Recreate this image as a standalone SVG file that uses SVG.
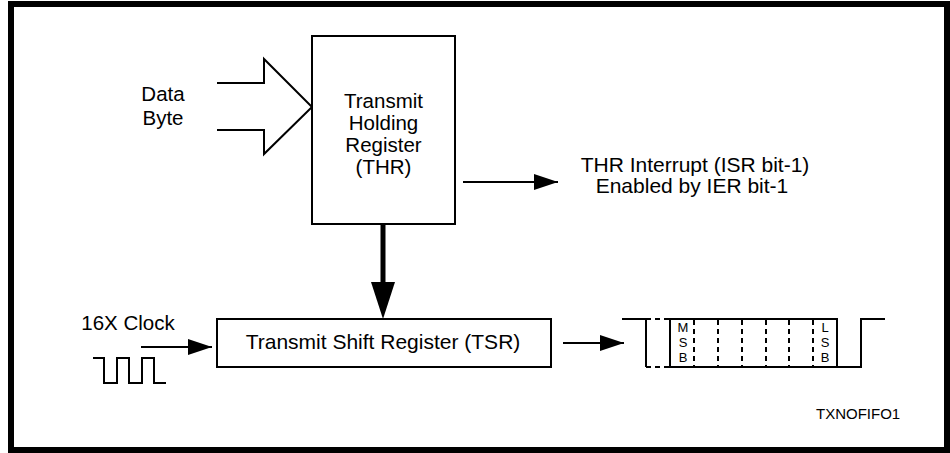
<svg xmlns="http://www.w3.org/2000/svg" width="950" height="453" viewBox="0 0 950 453">
<style>
text{font-family:"Liberation Sans",Arial,sans-serif;fill:#000}
.t{font-size:20.5px;text-anchor:middle}
.s{font-size:13px;text-anchor:middle}
.box{fill:#fff;stroke:#000;stroke-width:2}
.ln{fill:none;stroke:#000;stroke-width:2}
.dash{fill:none;stroke:#000;stroke-width:2;stroke-dasharray:5 4}
</style>
<defs>
<marker id="ah" markerWidth="24" markerHeight="16" refX="24" refY="8" orient="auto" markerUnits="userSpaceOnUse" viewBox="0 0 24 16">
<path d="M0,0 L24,8 L0,16 Z" fill="#000"/>
</marker>
</defs>
<rect x="0" y="0" width="950" height="453" fill="#fff"/>
<rect x="11" y="4" width="936" height="446" fill="none" stroke="#000" stroke-width="6"/>

<g id="data-byte">
<path class="ln" d="M217,83 H264 V59 L312,107 L264,154 V130 H217" stroke-width="1.5"/>
<text class="t" x="163" y="101">Data</text>
<text class="t" x="163" y="125">Byte</text>
</g>

<g id="thr">
<rect class="box" x="312" y="36" width="143" height="188"/>
<text class="t" x="383.5" y="108">Transmit</text>
<text class="t" x="383.5" y="130">Holding</text>
<text class="t" x="383.5" y="152">Register</text>
<text class="t" x="383.5" y="174">(THR)</text>
</g>

<g id="tsr">
<rect class="box" x="217" y="319" width="334" height="48"/>
<text class="t" x="383" y="349" style="font-size:21px">Transmit Shift Register (TSR)</text>
</g>

<g id="thr-interrupt">
<text class="t" x="695" y="172" style="font-size:21px">THR Interrupt (ISR bit-1)</text>
<text class="t" x="692" y="193" style="font-size:21px">Enabled by IER bit-1</text>
</g>

<g id="clock">
<text class="t" x="128" y="330">16X Clock</text>
<path class="ln" d="M93,358 H104 V383 H117 V358 H129 V383 H142 V358 H154 V383 H166"/>
</g>

<g id="serial-out">
<path class="ln" d="M622,319 H646 V367"/>
<path class="dash" d="M646,319 H670 M646,367 H670"/>
<rect x="670" y="319" width="167" height="48" fill="none" stroke="#000" stroke-width="2"/>
<path class="dash" d="M694,320 V367 M718,320 V367 M742,320 V367 M766,320 V367 M789,320 V367 M813,320 V367"/>
<path class="ln" d="M837,367 H861 V319 H885"/>
<text class="s" x="683" y="332">M</text>
<text class="s" x="683" y="347">S</text>
<text class="s" x="683" y="362">B</text>
<text class="s" x="825" y="332">L</text>
<text class="s" x="825" y="347">S</text>
<text class="s" x="825" y="362">B</text>
</g>

<g id="connectors">
<line x1="463" y1="182" x2="558" y2="182" stroke="#000" stroke-width="2" marker-end="url(#ah)"/>
<line x1="141" y1="347" x2="212" y2="347" stroke="#000" stroke-width="2" marker-end="url(#ah)"/>
<line x1="563" y1="343" x2="624" y2="343" stroke="#000" stroke-width="2" marker-end="url(#ah)"/>
<line x1="383" y1="224" x2="383" y2="285" stroke="#000" stroke-width="5"/>
<path d="M371,282 L395,282 L383,319 Z" fill="#000"/>
</g>

<text x="816" y="419" style="font-size:15px">TXNOFIFO1</text>
</svg>
